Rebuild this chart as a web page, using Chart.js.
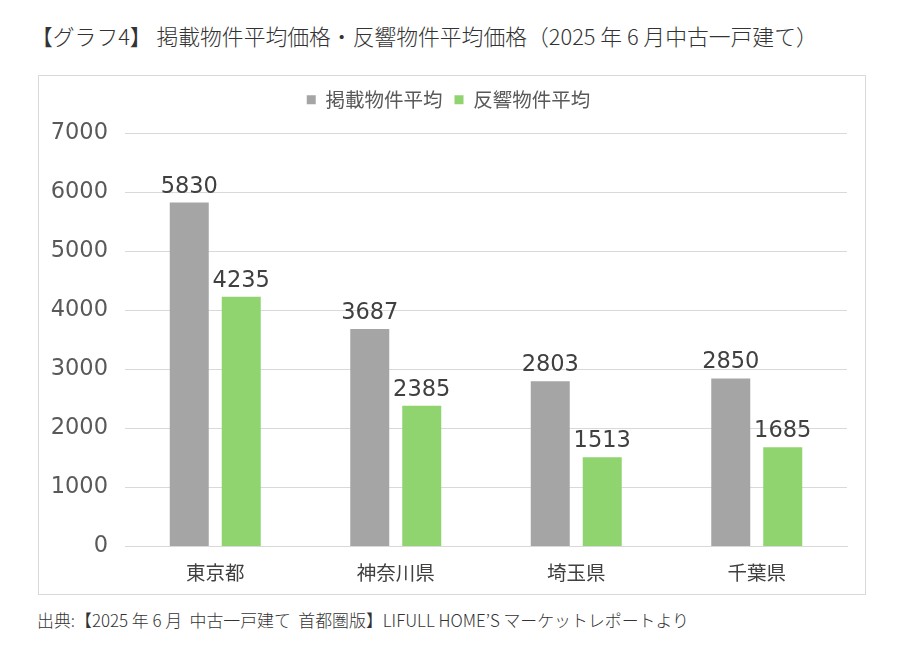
<!DOCTYPE html>
<html>
<head>
<meta charset="utf-8">
<script src="https://cdn.jsdelivr.net/npm/chart.js@4/dist/chart.umd.min.js"></script>
<style>
	body { margin: 0; background: #fff; font-family: "Noto Sans CJK JP", sans-serif; }
	#title { position: absolute; left: 31px; top: 20px; font-size: 21.8px; font-weight: 300; color: #333; white-space: nowrap; }
	#box { position: absolute; left: 38px; top: 75px; width: 826px; height: 518px; border: 1px solid #d9d9d9; }
	#foot { position: absolute; left: 37px; top: 607px; font-size: 16.9px; font-weight: 300; color: #333; white-space: nowrap; }
</style>
</head>
<body>
<div id="title">【グラフ4】 掲載物件平均価格・反響物件平均価格（2025 年 6 月中古一戸建て）</div>
<div id="box"><canvas id="chart"></canvas></div>
<div id="foot">出典:【2025 年 6 月&nbsp; 中古一戸建て&nbsp; 首都圏版】LIFULL HOME’S マーケットレポートより</div>
<script>
	const categories = ["東京都", "神奈川県", "埼玉県", "千葉県"];
	const listed = [5830, 3687, 2803, 2850];
	const response = [4235, 2385, 1513, 1685];
	const seriesNames = ["掲載物件平均", "反響物件平均"];

	// draws the value above each bar
	const valueLabels = {
		id: "valueLabels",
		afterDatasetsDraw(chart) {
			const ctx = chart.ctx;
			ctx.save();
			ctx.font = "22.5px 'DejaVu Sans'";
			ctx.fillStyle = "#404040";
			ctx.textAlign = "center";
			ctx.textBaseline = "alphabetic";
			chart.data.datasets.forEach((ds, i) => {
				chart.getDatasetMeta(i).data.forEach((bar, j) => {
					ctx.fillText(ds.data[j], bar.x, bar.y - 10);
				});
			});
			ctx.restore();
		},
	};

	// extra room under the legend
	const legendGap = {
		id: "legendGap",
		beforeInit(chart) {
			const fit = chart.legend.fit;
			chart.legend.fit = function () {
				fit.bind(chart.legend)();
				this.height += 14;
			};
		},
	};

	new Chart(document.getElementById("chart"), {
		type: "bar",
		data: {
			labels: categories,
			datasets: [
				{
					label: seriesNames[0],
					data: listed,
					backgroundColor: "#a5a5a5",
				},
				{
					label: seriesNames[1],
					data: response,
					backgroundColor: "#8fd46f",
				},
			],
		},
		options: {
			responsive: true,
			maintainAspectRatio: false,
			animation: false,
			categoryPercentage: 0.576,
			barPercentage: 0.75,
			layout: { padding: { left: 11, right: 18, top: 2, bottom: 4 } },
			plugins: {
				tooltip: { enabled: false },
				legend: {
					position: "top",
					labels: {
						boxWidth: 9,
						boxHeight: 9,
						padding: 12,
						color: "#595959",
						font: { size: 19.5, family: "'Noto Sans CJK JP'" },
					},
				},
			},
			scales: {
				x: {
					grid: { display: false },
					border: { color: "#d9d9d9" },
					ticks: { color: "#404040", font: { size: 19.5, family: "'Noto Sans CJK JP'" }, padding: 6 },
				},
				y: {
					min: 0,
					max: 7000,
					afterFit: (scale) => {
						scale.width = 75;
					},
					ticks: {
						stepSize: 1000,
						color: "#595959",
						padding: 17,
						font: { size: 22.5, family: "'DejaVu Sans'" },
						callback: (v) => String(v),
					},
					grid: { color: "#d9d9d9", drawTicks: false },
					border: { display: false },
				},
			},
		},
		plugins: [valueLabels, legendGap],
	});
</script>
</body>
</html>
